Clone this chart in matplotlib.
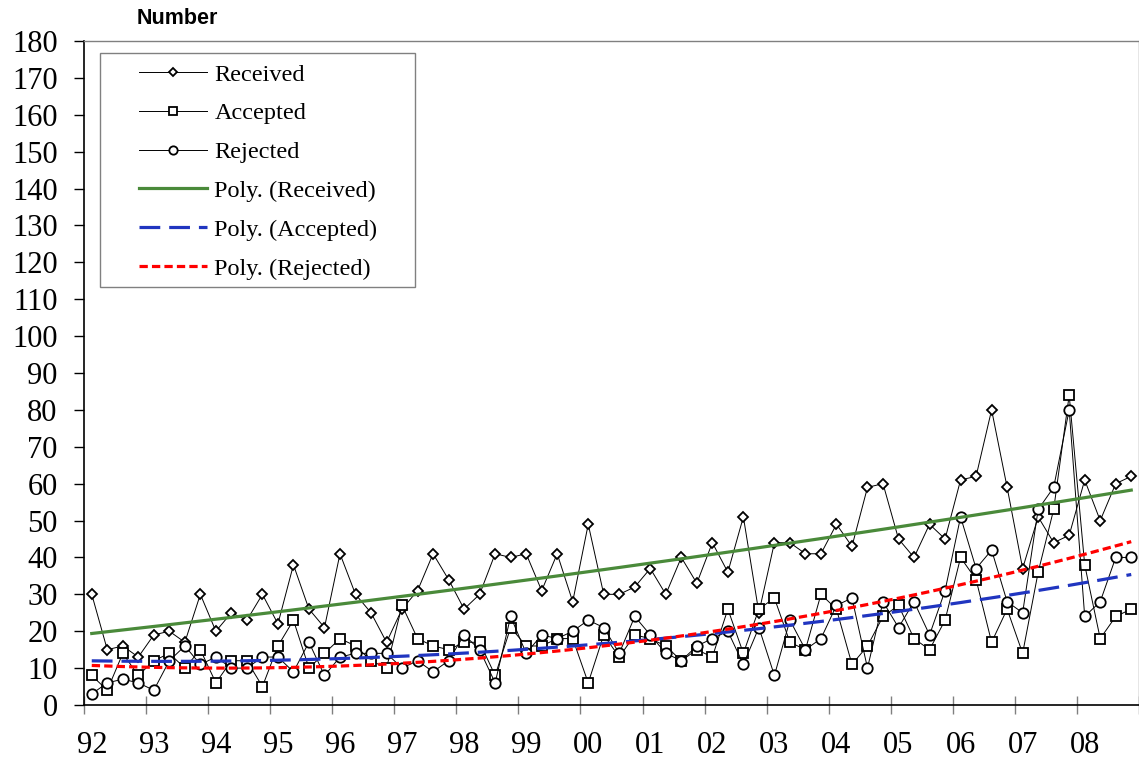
import numpy as np
import matplotlib
matplotlib.use("Agg")
import matplotlib.pyplot as plt
from matplotlib.patches import Rectangle

# quarterly data, 1992 Q1 .. 2008 Q4
years = ['92', '93', '94', '95', '96', '97', '98', '99', '00',
         '01', '02', '03', '04', '05', '06', '07', '08']

received = [30, 15, 16, 13, 19, 20, 17, 30, 20, 25, 23, 30, 22, 38, 26, 21,
            41, 30, 25, 17, 26, 31, 41, 34, 26, 30, 41, 40, 41, 31, 41, 28,
            49, 30, 30, 32, 37, 30, 40, 33, 44, 36, 51, 25, 44, 44, 41, 41,
            49, 43, 59, 60, 45, 40, 49, 45, 61, 62, 80, 59, 37, 51, 44, 46,
            61, 50, 60, 62]
accepted = [8, 4, 14, 8, 12, 14, 10, 15, 6, 12, 12, 5, 16, 23, 10, 14,
            18, 16, 12, 10, 27, 18, 16, 15, 17, 17, 8, 21, 16, 16, 18, 18,
            6, 19, 13, 19, 18, 16, 12, 15, 13, 26, 14, 26, 29, 17, 15, 30,
            26, 11, 16, 24, 27, 18, 15, 23, 40, 34, 17, 26, 14, 36, 53, 84,
            38, 18, 24, 26]
rejected = [3, 6, 7, 6, 4, 12, 16, 11, 13, 10, 10, 13, 13, 9, 17, 8,
            13, 14, 14, 14, 10, 12, 9, 12, 19, 15, 6, 24, 14, 19, 18, 20,
            23, 21, 14, 24, 19, 14, 12, 16, 18, 20, 11, 21, 8, 23, 15, 18,
            27, 29, 10, 28, 21, 28, 19, 31, 51, 37, 42, 28, 25, 53, 59, 80,
            24, 28, 40, 40]

x = np.arange(len(received))
xs = np.linspace(0, len(received) - 1, 300)

serif = ['Liberation Serif', 'DejaVu Serif']

fig = plt.figure(figsize=(11.39, 7.65), dpi=100)
ax = fig.add_axes([84 / 1139, 60 / 765, 1 - 84 / 1139, 664 / 765])

mk = dict(color='black', lw=0.7, mfc='white', mec='black', mew=1.3)
ax.plot(x, received, marker='D', ms=5.0, label='Received', zorder=3, **mk)
ax.plot(x, accepted, marker='s', ms=7.0, label='Accepted', zorder=3, **mk)
ax.plot(x, rejected, marker='o', ms=7.5, label='Rejected', zorder=3, **mk)

# 2nd order polynomial trendlines
for vals, col, ls, lab in [(received, '#4a8a3a', '-', 'Poly. (Received)'),
                           (accepted, '#2035c0', (0, (6.5, 2.8)), 'Poly. (Accepted)'),
                           (rejected, '#ff0000', (0, (2.6, 1.3)), 'Poly. (Rejected)')]:
    p = np.polyfit(x, vals, 2)
    ax.plot(xs, np.polyval(p, xs), color=col, ls=ls, lw=2.3, label=lab, zorder=4)

ax.set_xlim(-0.5, 67.05)
ax.set_ylim(0, 180)
ax.set_yticks(np.arange(0, 181, 10))
ax.set_xticks(np.arange(-0.5, 68, 4))
ax.set_xticklabels([])
ax.set_xticks(np.arange(0, 68, 4), minor=True)
ax.set_xticklabels(years, minor=True, fontfamily=serif, fontsize=22)
for lbl in ax.get_yticklabels():
    lbl.set_fontfamily(serif)
    lbl.set_fontsize(22)

ax.tick_params(axis='y', direction='out', length=7, width=1, pad=12)
ax.tick_params(axis='x', which='major', direction='inout', length=13, width=1,
               color='#808080')
ax.tick_params(axis='x', which='minor', length=0, pad=19)

for s in ['top', 'right']:
    ax.spines[s].set_color('#808080')
    ax.spines[s].set_linewidth(1)
ax.spines['left'].set_linewidth(1.2)
ax.spines['bottom'].set_linewidth(1.2)

leg = ax.legend(loc='upper left', bbox_to_anchor=(55 / 1055, 0.966),
                frameon=False, prop={'family': serif, 'size': 17.5},
                handlelength=2.8, handletextpad=0.3, labelspacing=0.69,
                markerscale=0.8, borderaxespad=0, borderpad=0)
ax.add_patch(Rectangle((16 / 1055, (705 - 287) / 664), 315 / 1055, 234 / 664,
                       transform=ax.transAxes, fill=True, fc='white',
                       ec='#808080', lw=1, zorder=5))
leg.set_zorder(6)

fig.text(137 / 1139, 1 - 19 / 765, 'Number', family='Liberation Sans',
         weight='bold', fontsize=15.5, ha='left', va='center')

plt.savefig('out.png', dpi=100)
plt.close(fig)
